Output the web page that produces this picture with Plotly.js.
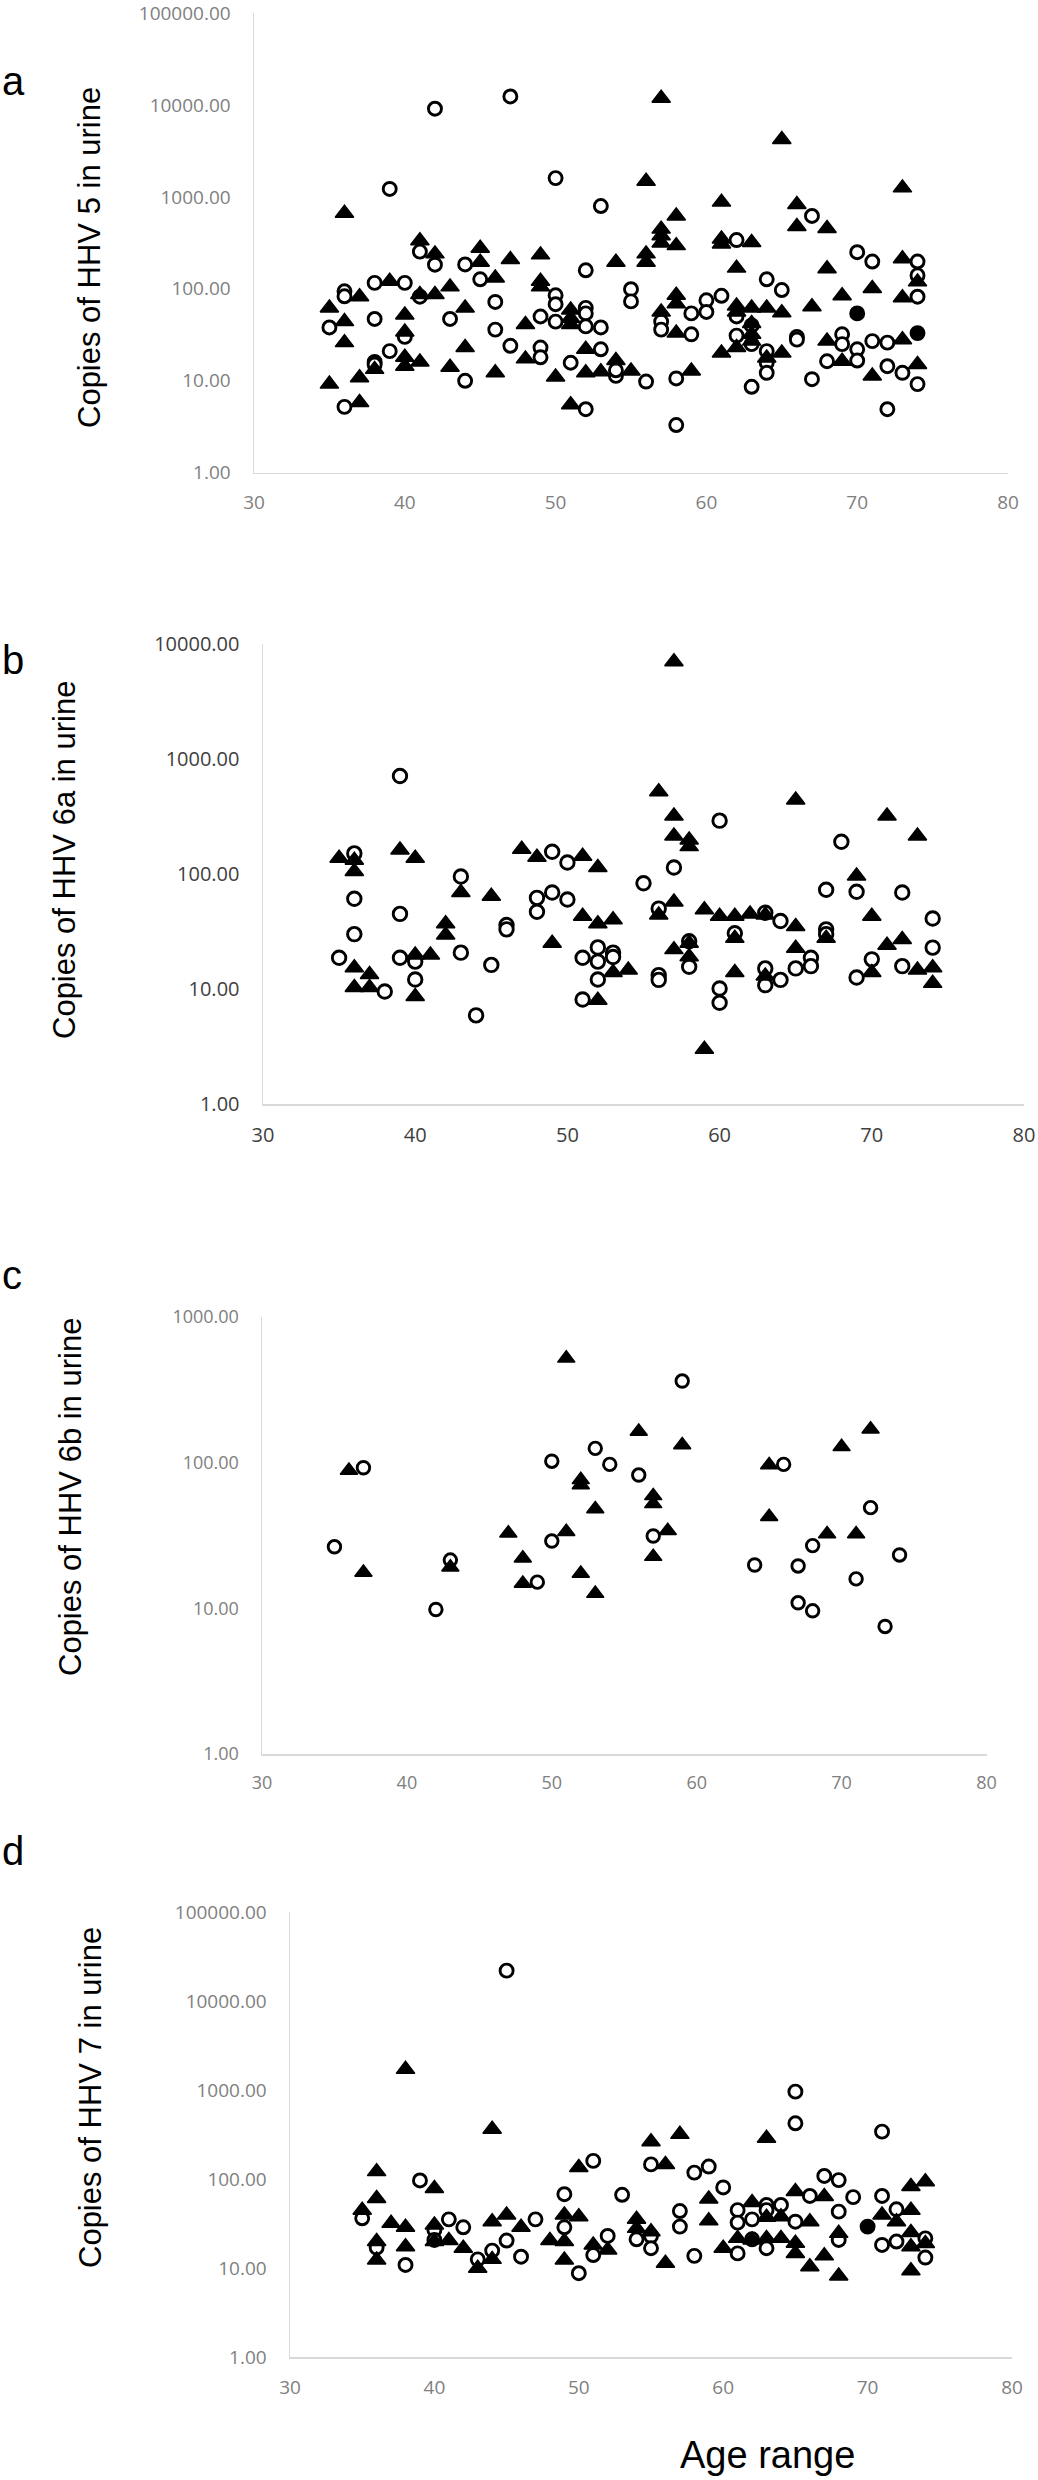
<!DOCTYPE html>
<html>
<head>
<meta charset="utf-8">
<script src="https://cdn.plot.ly/plotly-3.0.1.min.js"></script>
<style>html,body{margin:0;padding:0;background:#fff;}#chart{width:1038px;height:2480px;}</style>
</head>
<body>
<div id="chart"></div>
<script>
// ---------- Panel a : HHV 5 ----------
const a_circleAge = [35,36,36,36,38,38,38,38,39,39,40,40,41,41,42,42,43,44,44,45,46,46,47,47,49,49,49,50,50,50,50,51,52,52,52,52,52,53,53,53,54,54,55,55,56,57,57,58,58,59,59,60,60,61,62,62,62,63,63,63,64,64,64,64,65,66,66,67,67,68,69,69,70,70,70,71,71,72,72,72,73,74,74,74,74];
const a_circleVal = [38,94,83,5.2,116,47,16,15,1220,21,116,30,254,82,9100,183,47,184,10,127,72,36,12360,24,50,23,18,1600,85,68,44,15.7,159,62,54,39,4.9,795,38,22,11.3,13,99,73,9.8,44,36,10.6,3.3,54,32,75,56,84,339,50,31,8.6,40,25,127,21,15.7,12.2,97,30,28,620,10.4,16.3,32,25,250,22,16.6,198,27,26,14.4,4.9,12.2,198,140,82,9.2];
const a_triAge = [35,35,36,36,36,37,37,37,38,39,40,40,40,40,41,41,41,42,42,43,43,44,44,45,45,46,46,47,48,48,49,49,49,50,51,51,51,51,52,52,53,54,54,55,56,56,56,57,57,57,57,57,58,58,58,58,58,59,61,61,61,61,62,62,62,62,63,63,63,63,63,64,64,65,65,65,66,66,67,68,68,68,69,69,71,71,73,73,73,73,74,74];
const a_triVal = [62,9.2,663,44,26,82,10.8,5.8,13.3,121,52,34,18,14.4,334,87,16,240,87,105,14,62,23,276,195,131,12.2,208,41,17.3,234,121,105,11,59,48,41,5.5,22,12.2,12.5,195,16.6,12.8,1477,240,195,11850,446,378,315,56,620,295,85,69,33,12.8,877,348,307,20,168,65,56,23,320,62,42,32,27,62,17.7,4220,55,20,828,476,64,453,165,27,84,16.3,101,11.3,1253,212,80,28,119,15];
const a_filledAge = [70,74];
const a_filledVal = [54,33];

// ---------- Panel b : HHV 6a ----------
const b_circleAge = [35,36,36,36,38,39,39,39,40,40,43,43,44,45,46,46,48,48,49,49,50,50,51,51,52,52,52,53,53,55,56,56,56,57,58,58,60,60,60,61,63,63,63,64,64,65,66,66,67,67,67,68,69,69,70,72,72,74,74];
const b_circleVal = [18.7,151,61,30,9.5,711,45,18.7,17.3,12.1,95,20.7,5.9,16.2,36,33,62,47,156,69,126,60,18.7,8.1,23,17.3,12.1,20.7,19,83,50,13.2,12.0,114,26,15.6,291,10.1,7.6,30.5,46,15.1,10.8,39,12.0,15.1,18.7,15.8,73,33,30,191,70,12.6,18.1,69,15.8,41,22.9];
const b_triAge = [35,36,36,36,36,37,37,39,40,40,40,41,42,42,43,45,47,48,49,51,51,52,52,52,53,53,54,56,56,57,57,57,57,57,58,58,58,58,59,59,60,61,61,61,62,63,63,65,65,65,67,69,70,70,71,71,72,73,73,74,74];
const b_triVal = [137,132,105,15.3,10.3,13.4,10.3,162,137,19.8,8.6,19.8,37,29.5,69,64,164,140,25,143,43,114,37,8.0,40,13.9,14.6,520,44,7020,319,214,57,22,198,173,19.1,25,49,3.0,43,43,27.6,13.9,45,44,13,440,35,22.6,27.6,96,43,13.9,319,24,27,214,14.6,15.3,11.2];

// ---------- Panel c : HHV 6b ----------
const c_circleAge = [35,37,42,43,49,50,50,53,54,56,57,59,64,66,67,67,68,68,71,72,73,74];
const c_circleVal = [26.4,92,9.8,21.4,15.1,102,28.9,125,97,82,31.3,362,19.8,97,19.5,10.9,26.9,9.6,15.9,49,7.5,23.2];
const c_triAge = [36,37,43,47,48,48,51,51,52,52,52,53,53,56,57,57,57,58,59,65,65,69,70,71,72];
const c_triVal = [88,17.6,19.1,32.7,22,14.8,518,33.5,76,70,17.3,48,12.6,163,59,52,22.6,34,132,96,42.5,32.3,128,32.3,169];

// ---------- Panel d : HHV 7 ----------
const d_circleAge = [35,36,38,39,40,40,41,42,43,44,45,45,46,47,49,49,50,51,51,52,53,54,55,55,55,57,57,58,58,59,60,61,61,61,62,62,63,63,63,64,65,65,65,66,67,68,68,68,69,71,71,71,72,72,74,74];
const d_circleVal = [36.5,17.1,10.9,97,27,20.8,35.5,28.9,12.6,15.8,22100,20.5,13.5,35.5,68,28.9,8.8,161,14.1,23.1,67,21.2,147,23,16.8,44,29.4,119,13.8,139,81,45,32.6,14.7,35.5,21.2,51.5,45,16.8,51.5,966,426,33.4,65,109,98,43.3,20.8,63,343,65,18.3,46,20,21.7,13.2];
const d_triAge = [35,36,36,36,36,37,38,38,38,40,40,40,41,42,43,44,44,44,45,46,48,49,49,49,50,50,51,52,54,54,55,55,56,56,57,59,59,60,61,62,62,63,63,63,64,64,65,65,65,66,66,67,67,68,68,71,72,73,73,73,73,73,74,74];
const d_triVal = [45,122,61,20,12.4,32,1720,28.9,17.5,79,30.7,20,20.5,16.8,10,365,33.4,12.6,39.7,28.9,20.5,39.7,20,12.4,136,38,18.3,16.1,35.5,28.1,265,25.8,147,11.4,320,60,34.3,16.8,21.7,55,20.8,289,37.4,21.7,38,21.7,73,19.1,14.7,33.4,10.4,64,13.8,24.7,8.2,39.7,33.4,83,45,25.2,17.5,9.4,94,19];
const d_filledAge = [70];
const d_filledVal = [29.4];

// ---------- Axis labels ----------
const xTickVals = [30,40,50,60,70,80];
const yTickVals5 = [1,10,100,1000,10000,100000];
const yTickText5 = ['1.00','10.00','100.00','1000.00','10000.00','100000.00'];
const yTickVals4 = [1,10,100,1000,10000];
const yTickText4 = ['1.00','10.00','100.00','1000.00','10000.00'];
const yTickVals3 = [1,10,100,1000];
const yTickText3 = ['1.00','10.00','100.00','1000.00'];
const yTitles = ['Copies of HHV 5 in urine','Copies of HHV 6a in urine','Copies of HHV 6b in urine','Copies of HHV 7 in urine'];
const panelLetters = ['a','b','c','d'];
const xTitle = 'Age range';

// ---------- build ----------
const W = 1038, H = 2480;
const px = v => v / W;
const py = v => (H - v) / H;

function circles(x, y, ax, size, filled) {
  return {type:'scatter', mode:'markers', x:x, y:y, xaxis:'x'+ax, yaxis:'y'+ax, hoverinfo:'skip', cliponaxis:false,
    marker:{symbol:'circle', size:size, color: filled ? '#000' : '#fff', line:{color:'#000', width:2.9}}};
}
function tris(x, y, ax, size) {
  return {type:'scatter', mode:'markers', x:x, y:y, xaxis:'x'+ax, yaxis:'y'+ax, hoverinfo:'skip', cliponaxis:false,
    marker:{symbol:'triangle-up', size:size, color:'#000', line:{color:'#000', width:1.5}}};
}
const data = [
  circles(a_circleAge, a_circleVal, '', 13, false),
  circles(a_filledAge, a_filledVal, '', 13, true),
  tris(a_triAge, a_triVal, '', 16),
  circles(b_circleAge, b_circleVal, '2', 13.5, false),
  tris(b_triAge, b_triVal, '2', 16),
  circles(c_circleAge, c_circleVal, '3', 12.5, false),
  tris(c_triAge, c_triVal, '3', 15),
  circles(d_circleAge, d_circleVal, '4', 13, false),
  circles(d_filledAge, d_filledVal, '4', 13, true),
  tris(d_triAge, d_triVal, '4', 16)
];

function xax(left, right, anchor, fsize, color) {
  return {domain:[px(left), px(right)], anchor:anchor, range:[30,80], tickvals:xTickVals,
    showline:true, linecolor:'#d9d9d9', linewidth:1.5, showgrid:false, zeroline:false, ticks:'',
    ticklabelstandoff:12, ticklabeloverflow:'allow',
    tickfont:{family:'Open Sans, sans-serif', size:fsize, color:color}, fixedrange:true};
}
function yax(bottom, top, anchor, maxPow, vals, txt, fsize, color) {
  return {domain:[py(bottom), py(top)], anchor:anchor, type:'log', range:[0, maxPow], tickvals:vals, ticktext:txt,
    showline:true, linecolor:'#d9d9d9', linewidth:1.5, showgrid:false, zeroline:false, ticks:'',
    ticklabelstandoff:18, ticklabeloverflow:'allow',
    tickfont:{family:'Open Sans, sans-serif', size:fsize, color:color}, fixedrange:true};
}

const titleFont = {family:'Liberation Sans, Arial, sans-serif', size:31, color:'#000'};
const letterFont = {family:'Liberation Sans, Arial, sans-serif', size:40, color:'#000'};
function ytitle(text, cx, cy) {
  return {text:text, x:px(cx), y:py(cy), xref:'paper', yref:'paper', showarrow:false, textangle:-90,
    xanchor:'center', yanchor:'middle', font:titleFont};
}
function letter(text, cy) {
  return {text:text, x:0, y:py(cy), xref:'paper', yref:'paper', showarrow:false,
    xanchor:'left', yanchor:'middle', font:letterFont};
}

const layout = {
  width:W, height:H, margin:{l:0, r:0, t:0, b:0}, paper_bgcolor:'#fff', plot_bgcolor:'#fff', showlegend:false,
  xaxis:  xax(254, 1008, 'y', 19, '#7f7f7f'),
  yaxis:  yax(472.7, 13, 'x', 5, yTickVals5, yTickText5, 19, '#7f7f7f'),
  xaxis2: xax(263, 1024, 'y2', 20, '#404040'),
  yaxis2: yax(1104, 644, 'x2', 4, yTickVals4, yTickText4, 20, '#404040'),
  xaxis3: xax(262, 986.5, 'y3', 18, '#808080'),
  yaxis3: yax(1754, 1316.7, 'x3', 3, yTickVals3, yTickText3, 18, '#808080'),
  xaxis4: xax(290, 1012, 'y4', 19, '#7f7f7f'),
  yaxis4: yax(2357.3, 1912.3, 'x4', 5, yTickVals5, yTickText5, 19, '#7f7f7f'),
  annotations: [
    ytitle(yTitles[0], 90, 258),
    ytitle(yTitles[1], 64, 860),
    ytitle(yTitles[2], 70, 1497),
    ytitle(yTitles[3], 90, 2098),
    letter(panelLetters[0], 81),
    letter(panelLetters[1], 660),
    letter(panelLetters[2], 1275),
    letter(panelLetters[3], 1851),
    {text:xTitle, x:px(767), y:py(2455), xref:'paper', yref:'paper', showarrow:false, xanchor:'center', yanchor:'middle',
      font:{family:'Liberation Sans, Arial, sans-serif', size:38, color:'#000'}}
  ]
};

Plotly.newPlot('chart', data, layout, {displayModeBar:false, staticPlot:true});
</script>
</body>
</html>
